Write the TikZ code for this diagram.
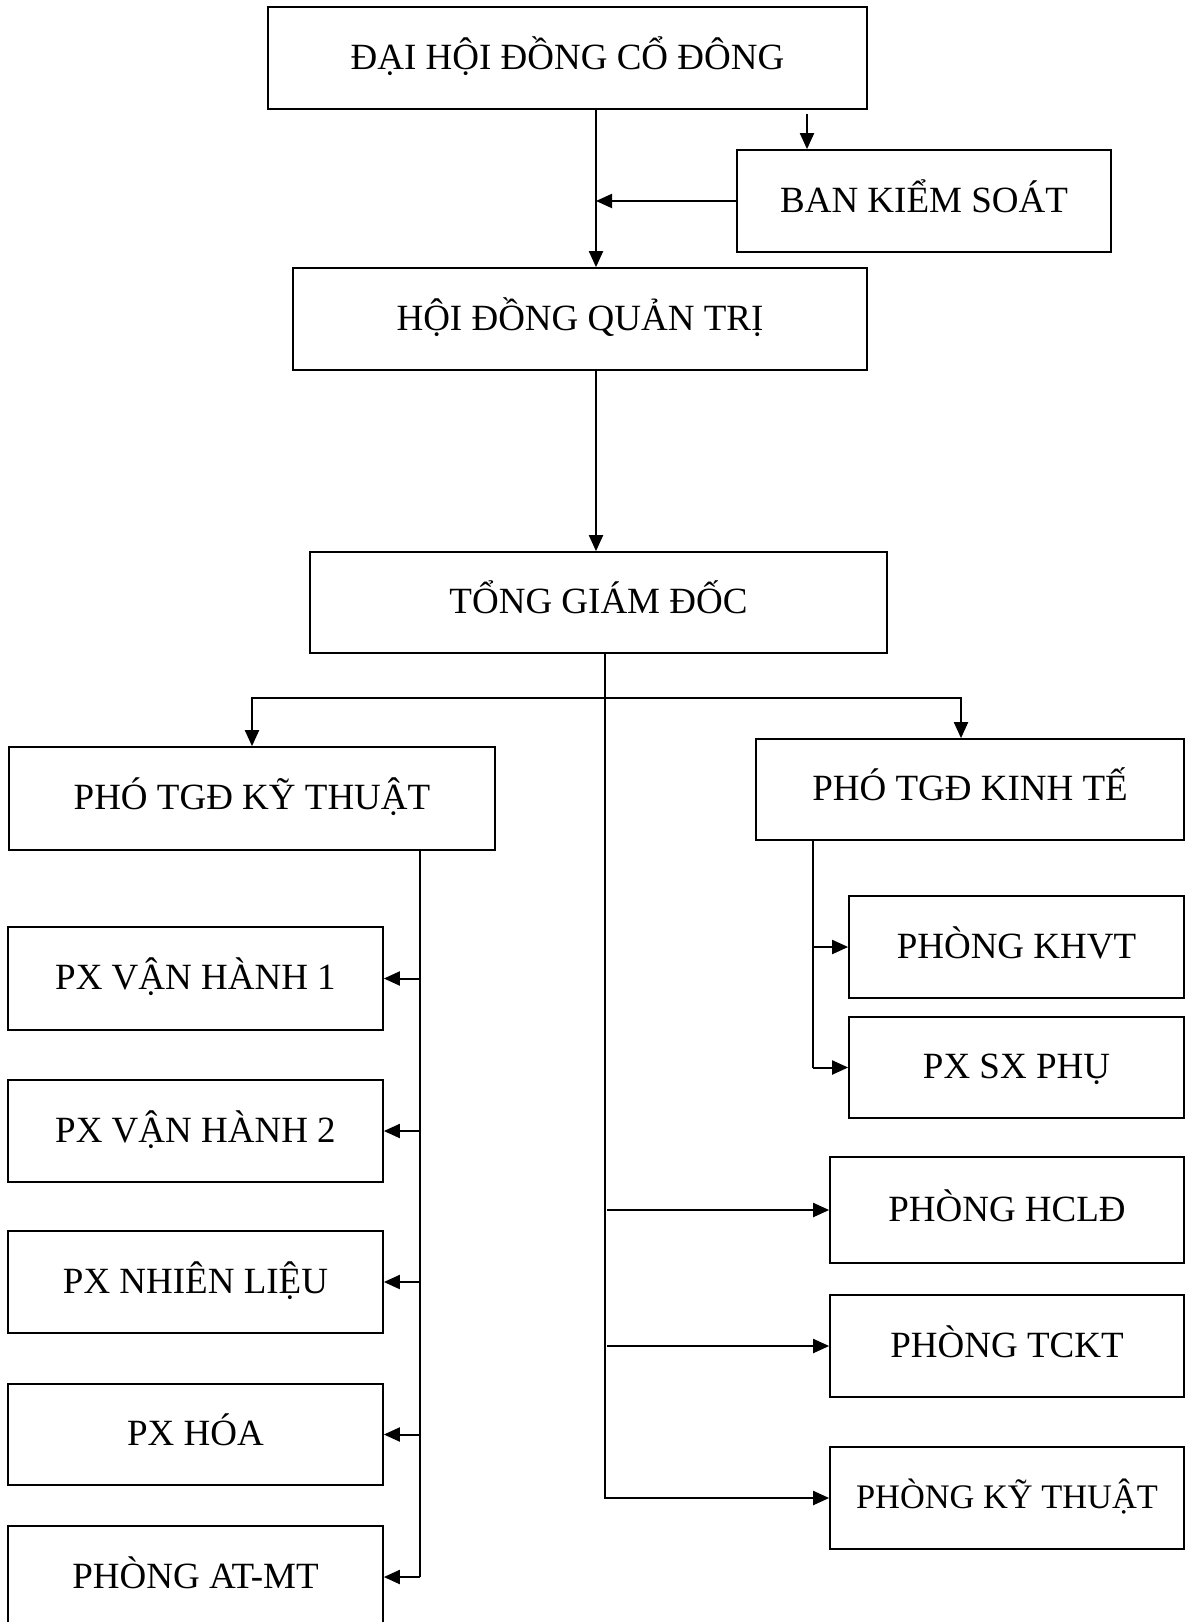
\documentclass[tikz,border=0pt]{standalone}
\usepackage{fontspec}
\setmainfont{Liberation Serif}
\usetikzlibrary{arrows.meta}
\begin{document}
\begin{tikzpicture}[x=0.5pt,y=-0.5pt,
  box/.style={draw, line width=0.85pt, inner sep=0pt, text height=12.2pt, text depth=1pt, font=\fontsize{18.5}{22}\selectfont},
  ln/.style={line width=1pt},
  arr/.style={line width=1pt, -{Triangle[length=8pt,width=7pt]}}]
\useasboundingbox (0,0) rectangle (1185,1622);
\clip (0,0) rectangle (1185,1622);
\fill[white] (0,0) rectangle (1185,1622);
% boxes
\node[box, minimum width=299.5pt, minimum height=51pt] (dh) at (567.5,58) {ĐẠI HỘI ĐỒNG CỔ ĐÔNG};
\node[box, minimum width=187pt, minimum height=51pt] (bks) at (924,201) {BAN KIỂM SOÁT};
\node[box, minimum width=287pt, minimum height=51pt] (hd) at (580,319) {HỘI ĐỒNG QUẢN TRỊ};
\node[box, minimum width=288.5pt, minimum height=50.5pt] (tgd) at (598.5,602.5) {TỔNG GIÁM ĐỐC};
\node[box, minimum width=243pt, minimum height=51.5pt] (pkt) at (252,798.5) {PHÓ TGĐ KỸ THUẬT};
\node[box, minimum width=214pt, minimum height=50.5pt] (pkte) at (970,789.5) {PHÓ TGĐ KINH TẾ};
\node[box, minimum width=187.5pt, minimum height=51.5pt] (px1) at (195.5,978.5) {PX VẬN HÀNH 1};
\node[box, minimum width=187.5pt, minimum height=51pt] (px2) at (195.5,1131) {PX VẬN HÀNH 2};
\node[box, minimum width=187.5pt, minimum height=51pt] (px3) at (195.5,1282) {PX NHIÊN LIỆU};
\node[box, minimum width=187.5pt, minimum height=50.5pt] (px4) at (195.5,1434.5) {PX HÓA};
\node[box, minimum width=187.5pt, minimum height=51pt] (px5) at (195.5,1577) {PHÒNG AT-MT};
\node[box, minimum width=167.5pt, minimum height=51pt] (khvt) at (1016.5,947) {PHÒNG KHVT};
\node[box, minimum width=167.5pt, minimum height=50.5pt] (sxp) at (1016.5,1067.5) {PX SX PHỤ};
\node[box, minimum width=177pt, minimum height=53pt] (hcld) at (1007,1210) {PHÒNG HCLĐ};
\node[box, minimum width=177pt, minimum height=51pt] (tckt) at (1007,1346) {PHÒNG TCKT};
\node[box, minimum width=177pt, minimum height=51pt, font=\fontsize{17.2}{20}\selectfont, text height=11.4pt] (pkyt) at (1007,1498) {PHÒNG KỸ THUẬT};
% helper coordinates
\coordinate (xa) at (596,0);
\coordinate (xb) at (807,0);
\coordinate (xm) at (605,0);
\coordinate (hb) at (0,698);
\coordinate (xr) at (961,0);
\coordinate (xl) at (420,0);
\coordinate (xk) at (813,0);
% top part
\draw[arr] ([yshift=-2pt]dh.south -| xb) -- (bks.north -| xb);
\draw[arr] (dh.south -| xa) -- (hd.north -| xa);
\draw[arr] (bks.west) -- (bks.west -| xa);
\draw[arr] (hd.south -| xa) -- (tgd.north -| xa);
% main trunk
\draw[arr] (tgd.south -| xm) |- (pkyt.west);
\draw[arr] (hb -| xm) -| (pkt.north);
\draw[arr] (hb -| xm) -| (xr |- pkte.north);
\draw[arr] ([xshift=1pt]hcld.west -| xm) -- (hcld.west);
\draw[arr] ([xshift=1pt]tckt.west -| xm) -- (tckt.west);
% technical branch
\draw[ln] (pkt.south -| xl) -- (px5.east -| xl);
\draw[arr] (px1.east -| xl) -- (px1.east);
\draw[arr] (px2.east -| xl) -- (px2.east);
\draw[arr] (px3.east -| xl) -- (px3.east);
\draw[arr] (px4.east -| xl) -- (px4.east);
\draw[arr] (px5.east -| xl) -- (px5.east);
% economic branch
\draw[ln] (pkte.south -| xk) -- (sxp.west -| xk);
\draw[arr] (khvt.west -| xk) -- (khvt.west);
\draw[arr] (sxp.west -| xk) -- (sxp.west);
\end{tikzpicture}
\end{document}
